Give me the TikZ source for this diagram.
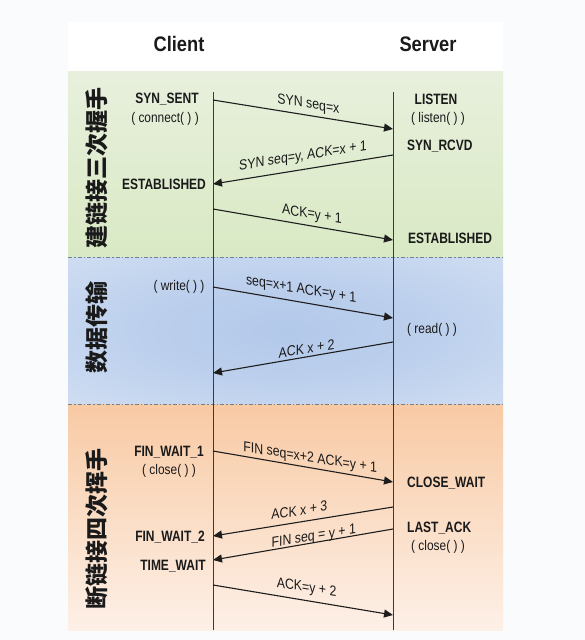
\documentclass[tikz,border=0pt]{standalone}
\usepackage{fontspec}
\setmainfont{Liberation Sans}
\newfontfamily\lblfont{Liberation Sans}[FakeStretch=0.85]
\newfontfamily\stfont{Liberation Sans}[FakeStretch=0.8]
\newfontfamily\hdrfont{Liberation Sans}[FakeStretch=0.87]
\newfontfamily\cjk{Noto Sans CJK SC}
\usetikzlibrary{arrows.meta}
\definecolor{outerbg}{HTML}{F9FBFC}
\definecolor{greenT}{HTML}{E8F0DD}
\definecolor{greenB}{HTML}{D9E9C4}
\definecolor{blueA}{HTML}{B3C9EA}
\definecolor{blueB}{HTML}{BDD0ED}
\definecolor{blueC}{HTML}{D6E2F3}
\definecolor{blueD}{HTML}{E4ECF8}
\definecolor{blueE}{HTML}{EAF0F9}
\definecolor{orangeT}{HTML}{F8CAA4}
\definecolor{orangeB}{HTML}{FDF0E7}
\definecolor{sepc}{HTML}{6F8193}
\definecolor{lifec}{HTML}{3A3A3A}
\definecolor{arrowc}{HTML}{1E1E1E}
\definecolor{txt}{HTML}{1A1A1A}
\pgfdeclareradialshading{bandblue}{\pgfpoint{0bp}{0bp}}{color(0bp)=(blueA); color(18bp)=(blueB); color(42bp)=(blueC); color(50bp)=(blueD); color(71bp)=(blueE)}
\tikzset{
  hdr/.style={font=\hdrfont\bfseries\fontsize{21}{22}\selectfont, text=txt, inner sep=0pt},
  st/.style={font=\stfont\bfseries\fontsize{15}{16}\selectfont, text=txt, inner sep=0pt},
  fn/.style={font=\lblfont\fontsize{14}{15}\selectfont, text=txt, inner sep=0pt},
  lbl/.style={font=\lblfont\fontsize{14.5}{15}\selectfont, text=txt, inner sep=0pt,
              text height=10.5pt, text depth=3pt, anchor=center},
  down/.style={yslant=-0.161},
  up/.style={yslant=0.161},
  msg/.style={draw=arrowc, line width=1.1pt, -{Triangle[length=9pt,width=8pt]}},
  life/.style={draw=lifec, line width=1pt},
  sepline/.style={draw=sepc, line width=0.9pt, dash pattern=on 4pt off 2pt on 1.5pt off 2pt},
  phase/.style={font=\cjk\bfseries\fontsize{23}{23}\selectfont, rotate=90, text=txt, inner sep=0pt},
}
\begin{document}
\begin{tikzpicture}[x=1pt,y=-1pt]
\useasboundingbox (0,0) rectangle (585,640);
% backgrounds
\fill[outerbg] (0,0) rectangle (585,640);
\fill[white] (68,22) rectangle (503,71);
\fill[top color=greenT, bottom color=greenB] (68,71) rectangle (503,257);
\fill[shading=bandblue] (68,257) rectangle (503,404);
\fill[top color=orangeT, bottom color=orangeB] (68,404) rectangle (503,630);
% separators
\coordinate (sepAl) at (68,257); \coordinate (sepAr) at (503,257);
\coordinate (sepBl) at (68,404); \coordinate (sepBr) at (503,404);
\draw[sepline] (sepAl) -- (sepAr);
\draw[sepline] (sepBl) -- (sepBr);
% headers
\node[hdr] (client) at (179,44) {Client};
\node[hdr] (server) at (428,44) {Server};
% lifelines
\coordinate (ctop) at (213,92); \coordinate (cbot) at (213,630);
\coordinate (stop) at (393,92); \coordinate (sbot) at (393,630);
\draw[life] (ctop) -- (cbot);
\draw[life] (stop) -- (sbot);
% phase labels
\node[phase] (p1) at (97,167.5) {建链接三次握手};
\node[phase] (p2) at (97,327.5) {数据传输};
\node[phase] (p3) at (97,528.5) {断链接四次挥手};
% states client
\node[st] (synsent) at (167,99) {SYN\_SENT};
\node[fn] (connect) at (165,119) {( connect( ) )};
\node[st] (cest) at (164,184) {ESTABLISHED};
\node[fn] (write) at (179,287) {( write( ) )};
\node[st] (fw1) at (169,452) {FIN\_WAIT\_1};
\node[fn] (cclose) at (169,471) {( close( ) )};
\node[st] (fw2) at (170,537) {FIN\_WAIT\_2};
\node[st] (tw) at (173,566) {TIME\_WAIT};
% states server
\node[st] (listen) at (436,99) {LISTEN};
\node[fn] (listenf) at (438,119) {( listen( ) )};
\node[st, anchor=west] (synrcvd) at (407,146) {SYN\_RCVD};
\node[st, anchor=west] (sest) at (408,238) {ESTABLISHED};
\node[fn, anchor=west] (read) at (407,330) {( read( ) )};
\node[st, anchor=west] (cw) at (407,483) {CLOSE\_WAIT};
\node[st, anchor=west] (lack) at (407,528) {LAST\_ACK};
\node[fn] (sclose) at (438,547) {( close( ) )};
% message endpoints
\coordinate (c1) at (213,100); \coordinate (s1) at (393,129);
\coordinate (s2) at (393,155); \coordinate (c2) at (213,184);
\coordinate (c3) at (213,209); \coordinate (s3) at (393,240);
\coordinate (c4) at (213,287); \coordinate (s4) at (393,318);
\coordinate (s5) at (393,342); \coordinate (c5) at (213,373);
\coordinate (c6) at (213,451); \coordinate (s6) at (393,482);
\coordinate (s7) at (393,507); \coordinate (c7) at (213,536);
\coordinate (s8) at (393,529); \coordinate (c8) at (213,560);
\coordinate (c9) at (213,585); \coordinate (s9) at (393,615);
% messages
\draw[msg] (c1) -- node[lbl, down, pos=0.53, yshift=10.8pt] {SYN seq=x} (s1);
\draw[msg] (s2) -- node[lbl, up, pos=0.5, yshift=13pt] {SYN seq=y, ACK=x + 1} (c2);
\draw[msg] (c3) -- node[lbl, down, pos=0.55, yshift=11.2pt] {ACK=y + 1} (s3);
\draw[msg] (c4) -- node[lbl, down, pos=0.49, yshift=12.5pt] {seq=x+1 ACK=y + 1} (s4);
\draw[msg] (s5) -- node[lbl, up, pos=0.48, yshift=7pt] {ACK x + 2} (c5);
\draw[msg] (c6) -- node[lbl, down, pos=0.54, yshift=9.5pt] {FIN seq=x+2 ACK=y + 1} (s6);
\draw[msg] (s7) -- node[lbl, up, pos=0.52, yshift=10.5pt] {ACK x + 3} (c7);
\draw[msg] (s8) -- node[lbl, up, pos=0.44, yshift=5.8pt] {FIN seq = y + 1} (c8);
\draw[msg] (c9) -- node[lbl, down, pos=0.52, yshift=12.5pt] {ACK=y + 2} (s9);
\end{tikzpicture}
\end{document}
